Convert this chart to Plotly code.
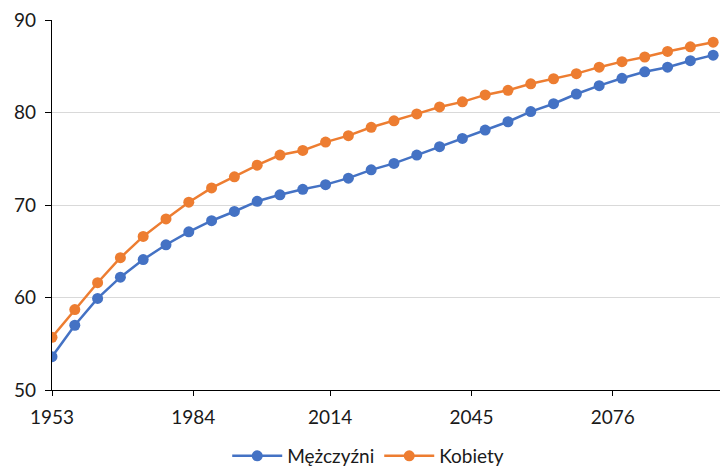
import plotly.graph_objects as go

years = [1953, 1958, 1963, 1968, 1973, 1978, 1983, 1988, 1993, 1998,
         2003, 2008, 2013, 2018, 2023, 2028, 2033, 2038, 2043, 2048,
         2053, 2058, 2063, 2068, 2073, 2078, 2083, 2088, 2093, 2098]
men = [53.6, 57.0, 59.9, 62.2, 64.1, 65.7, 67.1, 68.3, 69.3, 70.4,
       71.1, 71.7, 72.2, 72.9, 73.8, 74.5, 75.4, 76.3, 77.2, 78.1,
       79.0, 80.1, 80.95, 82.0, 82.9, 83.7, 84.4, 84.9, 85.6, 86.2]
women = [55.7, 58.7, 61.6, 64.3, 66.6, 68.5, 70.3, 71.85, 73.05, 74.3,
         75.4, 75.9, 76.8, 77.5, 78.4, 79.1, 79.85, 80.6, 81.15, 81.9,
         82.4, 83.1, 83.65, 84.2, 84.9, 85.5, 86.0, 86.6, 87.1, 87.6]
x_ticks = [1953, 1984, 2014, 2045, 2076]
y_ticks = [50, 60, 70, 80, 90]

FONT = "Lato, 'Open Sans', sans-serif"

fig = go.Figure()
fig.add_trace(go.Scatter(x=years, y=men, name="Mężczyźni", mode="lines+markers",
                         line=dict(color="#4472C4", width=2.5),
                         marker=dict(color="#4472C4", size=11)))
fig.add_trace(go.Scatter(x=years, y=women, name="Kobiety", mode="lines+markers",
                         line=dict(color="#ED7D31", width=2.5),
                         marker=dict(color="#ED7D31", size=11)))

fig.update_layout(
    width=722, height=475,
    margin=dict(l=52, r=2, t=20, b=85),
    paper_bgcolor="white", plot_bgcolor="white",
    font=dict(family=FONT, size=19, color="#1a1a1a"),
    showlegend=True,
    legend=dict(orientation="h", x=0.51, xanchor="center", xref="container",
                y=0.0, yanchor="bottom", yref="container",
                font=dict(size=19, color="#1a1a1a"), itemwidth=50,
                tracegroupgap=0),
)
fig.update_xaxes(range=[1953, 2099.5], tickmode="array", tickvals=x_ticks,
                 ticktext=[str(t) for t in x_ticks], automargin=False,
                 showline=True, linecolor="black", linewidth=1.3,
                 ticks="outside", ticklen=5, tickcolor="black", showgrid=False,
                 zeroline=False, ticklabelstandoff=5)
fig.update_yaxes(range=[50, 90], tickmode="array", tickvals=y_ticks, automargin=False,
                 showline=True, linecolor="black", linewidth=1.3,
                 ticks="outside", ticklen=6, tickcolor="black",
                 showgrid=True, gridcolor="#d9d9d9", gridwidth=1, zeroline=False,
                 ticklabelstandoff=5)

fig.write_html("out.html", config={"displayModeBar": False},
               post_script="document.body.style.margin='0';")
